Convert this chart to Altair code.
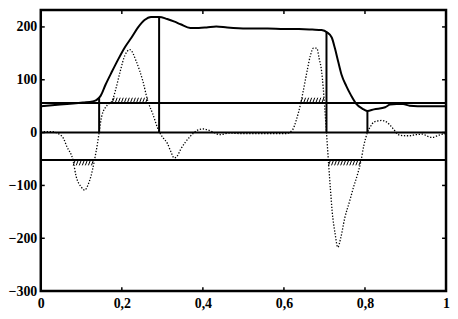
import altair as alt
import pandas as pd
import numpy as np

# solid curve
solid_x = [0, 0.048, 0.104, 0.128, 0.136, 0.144, 0.148, 0.16, 0.176, 0.192, 0.208, 0.224, 0.24, 0.256,
           0.272, 0.292, 0.312, 0.33, 0.345, 0.369, 0.39, 0.409, 0.433, 0.46, 0.508, 0.56, 0.6, 0.637,
           0.67, 0.693, 0.706, 0.718, 0.726, 0.734, 0.742, 0.754, 0.766, 0.778, 0.794, 0.806,
           0.822, 0.85, 0.862, 0.878, 0.894, 0.91, 0.95, 1.0]
solid_y = [50, 53, 57, 59, 61, 66, 70, 91, 116, 140, 162, 180, 199, 213,
           219, 219, 215, 210, 205, 198, 198, 199, 201, 199, 197, 197, 196, 196,
           195, 194, 190, 180, 159, 134, 110, 88, 70, 55, 45, 41,
           44, 48, 53, 54, 54, 51, 50, 50]

# dotted curve
dot_x = [0, 0.024, 0.048, 0.056, 0.064, 0.08, 0.087, 0.1, 0.108, 0.116, 0.124, 0.132, 0.14, 0.144,
         0.15, 0.164, 0.176, 0.186, 0.196, 0.208, 0.22, 0.236, 0.252, 0.264, 0.276, 0.292, 0.3,
         0.312, 0.322, 0.329, 0.337, 0.345, 0.357, 0.369, 0.385, 0.4, 0.412, 0.425, 0.441, 0.465,
         0.5, 0.55, 0.605, 0.621, 0.631, 0.641, 0.65, 0.657, 0.665, 0.673, 0.681, 0.687, 0.693,
         0.697, 0.7, 0.705, 0.71, 0.715, 0.719, 0.726, 0.733, 0.74, 0.75, 0.762, 0.773, 0.782,
         0.79, 0.797, 0.806, 0.814, 0.822, 0.842, 0.855, 0.862, 0.872, 0.882, 0.9, 0.91, 0.925,
         0.942, 0.955, 0.966, 0.986, 1.0]
dot_y = [2, 2, -4, -11, -26, -54, -82, -103, -109, -100, -82, -54, -20, 0,
         30, 52, 60, 85, 116, 147, 157, 134, 97, 60, 36, 2, -8,
         -20, -38, -48, -44, -32, -18, -7, 4, 7, 5, 1, -4, -1,
         -2, -2, -2, 5, 25, 54, 88, 116, 145, 160, 160, 140, 116,
         85, 54, 0, -57, -110, -149, -190, -217, -200, -162, -130, -100, -78,
         -54, -25, 0, 12, 20, 23, 19, 14, 5, -4, -6, -6, -4,
         -3, -7, -9, -4, -2]

# threshold lines
levels = [56, 0, -52]

# vertical markers: x, top value
vline_x = [0.144, 0.292, 0.705, 0.806]
vline_top = [66, 219, 191, 41]

# hatched intervals: start, end, threshold, direction (+1 above, -1 below)
hatch_start = [0.08, 0.176, 0.641, 0.71]
hatch_end = [0.132, 0.265, 0.70, 0.79]
hatch_level = [-52, 56, 56, -52]
hatch_dir = [-1, 1, 1, -1]

x_ticks = [0, 0.2, 0.4, 0.6, 0.8, 1]
y_ticks = [-300, -200, -100, 0, 100, 200]

W, H = 408, 283
FONT = "Liberation Serif"

xs = alt.Scale(domain=[0, 1], nice=False, zero=False)
ys = alt.Scale(domain=[-300, 232], nice=False, zero=False)

solid_df = pd.DataFrame({"x": solid_x, "y": solid_y})
dot_df = pd.DataFrame({"x": dot_x, "y": dot_y})
lev_df = pd.DataFrame({"y": levels})
vl_df = pd.DataFrame({"x": vline_x, "y": [0] * len(vline_x), "y2": vline_top})

rows = []
for s, e, lv, d in zip(hatch_start, hatch_end, hatch_level, hatch_dir):
    for xv in np.arange(s, e - 0.004, 0.0075):
        if d > 0:
            rows.append({"x": xv, "x2": xv + 0.005, "y": lv, "y2": lv + 10})
        else:
            rows.append({"x": xv, "x2": xv + 0.005, "y": lv - 10, "y2": lv})
hatch_df = pd.DataFrame(rows)

xaxis = alt.Axis(values=x_ticks, format="~g", labelExpr="replace(datum.label, '.', ',')", grid=False,
                 domain=False, ticks=False, labelFlush=False, labelOverlap=False,
                 labelFont=FONT, labelFontSize=14, labelFontWeight="bold", labelColor="black",
                 labelPadding=6, title=None)
yaxis = alt.Axis(values=y_ticks, grid=False, domain=False, ticks=False, labelOverlap=False,
                 labelFont=FONT, labelFontSize=14, labelFontWeight="bold", labelColor="black",
                 labelPadding=4, title=None)

solid = alt.Chart(solid_df).mark_line(color="black", strokeWidth=2, interpolate="monotone").encode(
    x=alt.X("x:Q", scale=xs, axis=xaxis), y=alt.Y("y:Q", scale=ys, axis=yaxis))
dotted = alt.Chart(dot_df).mark_line(color="black", strokeWidth=1.3, strokeDash=[1.3, 1.7],
                                     interpolate="monotone").encode(
    x=alt.X("x:Q", scale=xs), y=alt.Y("y:Q", scale=ys))
lev = alt.Chart(lev_df).mark_rule(color="black", strokeWidth=2).encode(
    y=alt.Y("y:Q", scale=ys))
vl = alt.Chart(vl_df).mark_rule(color="black", strokeWidth=2).encode(
    x=alt.X("x:Q", scale=xs), y=alt.Y("y:Q", scale=ys), y2="y2:Q")
hatch = alt.Chart(hatch_df).mark_rule(color="black", strokeWidth=1).encode(
    x=alt.X("x:Q", scale=xs), x2="x2:Q", y=alt.Y("y:Q", scale=ys), y2="y2:Q")

xt_df = pd.DataFrame({"x": x_ticks[1:-1]})
yt_df = pd.DataFrame({"y": y_ticks[1:]})
xt_bot = alt.Chart(xt_df).mark_rule(color="black", strokeWidth=1.5).encode(
    x=alt.X("x:Q", scale=xs), y=alt.value(H), y2=alt.value(H - 4))
xt_top = alt.Chart(xt_df).mark_rule(color="black", strokeWidth=1.5).encode(
    x=alt.X("x:Q", scale=xs), y=alt.value(0), y2=alt.value(4))
yt_l = alt.Chart(yt_df).mark_rule(color="black", strokeWidth=1.5).encode(
    y=alt.Y("y:Q", scale=ys), x=alt.value(0), x2=alt.value(4))
yt_r = alt.Chart(yt_df).mark_rule(color="black", strokeWidth=1.5).encode(
    y=alt.Y("y:Q", scale=ys), x=alt.value(W - 4), x2=alt.value(W))

chart = alt.layer(solid, dotted, lev, vl, hatch, xt_bot, xt_top, yt_l, yt_r).properties(
    width=W, height=H, padding={"left": 0, "top": 0, "right": 0, "bottom": 0}
).configure(background="white").configure_view(stroke="black", strokeWidth=2.5)

chart.save("out.html", embed_options={"renderer": "svg", "actions": False})
